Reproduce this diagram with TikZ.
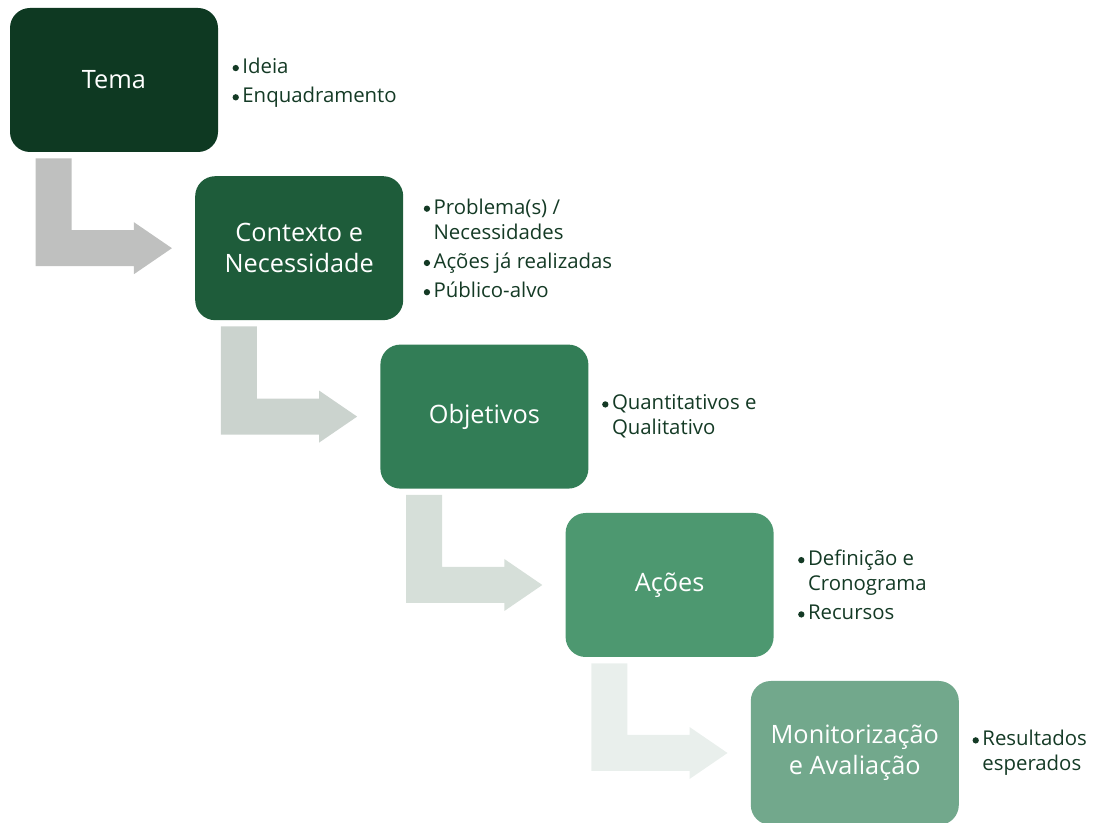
\documentclass[tikz,border=0pt]{standalone}
\usepackage{fontspec}
\setmainfont{Open Sans}
\usetikzlibrary{positioning, calc}

\definecolor{stage1}{RGB}{14, 57, 34}
\definecolor{stage2}{RGB}{30, 92, 58}
\definecolor{stage3}{RGB}{50, 125, 86}
\definecolor{stage4}{RGB}{77, 152, 112}
\definecolor{stage5}{RGB}{114, 168, 140}
\definecolor{arrow1}{RGB}{191, 192, 191}
\definecolor{arrow2}{RGB}{203, 211, 206}
\definecolor{arrow3}{RGB}{214, 223, 217}
\definecolor{arrow4}{RGB}{233, 239, 236}
\definecolor{listgreen}{RGB}{20, 58, 37}

\tikzset{
  stage/.style={rounded corners=0.5cm, minimum width=5.2cm, minimum height=3.6cm, inner sep=0pt, align=center, text=white, font=\fontsize{18}{22}\selectfont},
  bullets/.style={align=left, inner sep=0pt, text=listgreen, font=\fontsize{14.5}{17.8}\selectfont}
}

% bullet and hanging indent for the lists
\newcommand{\bitem}{\makebox[7pt][l]{\raisebox{1.6pt}{\tikz\fill[listgreen] (0,0) circle (2.25pt);}}}
\newcommand{\bcont}{\hspace*{7pt}}

% bent block arrow from one stage down and into the next
\newcommand{\bentarrow}[3]{%
  \fill[#1] ($(#2.south west)+(0.65,-0.15)$) -- ++(0.9,0) |- ($(#3.west)+(-1.525,0.45)$) -- ++(0,0.2)
    -- ($(#3.west)+(-0.575,0)$) -- ++(-0.95,-0.65) -- ++(0,0.2) -| ($(#2.south west)+(0.65,-0.15)$) -- cycle;
}

\begin{document}
\begin{tikzpicture}
  \useasboundingbox (0,0) rectangle (27.325,20.575);

  % Stages
  \node[stage, fill=stage1] (tema) at (2.85, 18.575) {Tema};
  \node[stage, fill=stage2] (contexto) at (7.48, 14.37) {Contexto e\\Necessidade};
  \node[stage, fill=stage3] (objetivos) at (12.11, 10.16) {Objetivos};
  \node[stage, fill=stage4] (acoes) at (16.74, 5.95) {Ações};
  \node[stage, fill=stage5] (monit) at (21.37, 1.75) {Monitorização\\e Avaliação};

  % Arrows between stages
  \bentarrow{arrow1}{tema}{contexto}
  \bentarrow{arrow2}{contexto}{objetivos}
  \bentarrow{arrow3}{objetivos}{acoes}
  \bentarrow{arrow4}{acoes}{monit}

  % Lists
  \node[bullets, right=0.35cm of tema, yshift=-2pt] (temalist) {\bitem Ideia\\[3pt]\bitem Enquadramento};
  \node[bullets, right=0.5cm of contexto] (contextolist) {\bitem Problema(s) /\\\bcont Necessidades\\[3pt]\bitem Ações já realizadas\\[3pt]\bitem Público-alvo};
  \node[bullets, right=0.33cm of objetivos] (objetivoslist) {\bitem Quantitativos e\\\bcont Qualitativo};
  \node[bullets, right=0.6cm of acoes] (acoeslist) {\bitem Definição e\\\bcont Cronograma\\[3pt]\bitem Recursos};
  \node[bullets, right=0.33cm of monit] (monitlist) {\bitem Resultados\\\bcont esperados};
\end{tikzpicture}
\end{document}
